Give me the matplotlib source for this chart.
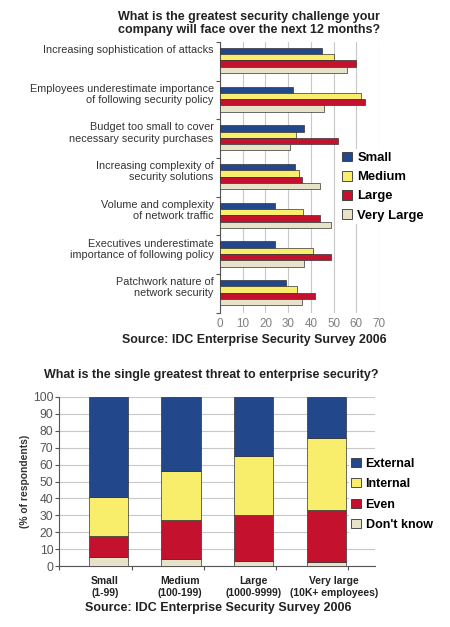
import matplotlib
matplotlib.use('Agg')
import numpy as np
import matplotlib.pyplot as plt
from matplotlib.patches import Patch

plt.rcParams['font.family'] = ['Liberation Sans', 'DejaVu Sans']

# top chart data
challenges = [
    'Increasing sophistication of attacks',
    'Employees underestimate importance\nof following security policy',
    'Budget too small to cover\nnecessary security purchases',
    'Increasing complexity of\nsecurity solutions',
    'Volume and complexity\nof network traffic',
    'Executives underestimate\nimportance of following policy',
    'Patchwork nature of\nnetwork security',
]
size_names = ['Small', 'Medium', 'Large', 'Very Large']
small = [45, 32, 37, 33, 24, 24, 29]
medium = [50, 62, 33.5, 35, 36.5, 41, 34]
large = [60, 64, 52, 36, 44, 49, 42]
very_large = [56, 46, 31, 44, 49, 37, 36]

# bottom chart data
company_sizes = ['Small\n(1-99)', 'Medium\n(100-199)', 'Large\n(1000-9999)',
                 'Very large\n(10K+ employees)']
threat_names = ['External', 'Internal', 'Even', "Don't know"]
dont_know = [5.5, 4.5, 3, 2.5]
even = [12.5, 23, 27, 30.5]
internal = [23, 28.5, 35, 42.5]
external = [59, 44, 35, 24.5]

BLUE = '#22478a'
YELLOW = '#f8ee6c'
RED = '#c3112e'
BEIGE = '#e7e3c9'
EDGE = '#333333'
GRID = '#c8c8c8'
TXT = '#333333'

fig = plt.figure(figsize=(4.5, 6.27), dpi=100)

# ---------------- top chart ----------------
ax1 = fig.add_axes([0.489, 0.501, 0.353, 0.432])
series = [small, medium, large, very_large]
colors = [BLUE, YELLOW, RED, BEIGE]
n = len(challenges)
h = 0.163
y0 = np.arange(n) + 0.15
for i, (vals, c) in enumerate(zip(series, colors)):
    ax1.barh(y0 + i * h, vals, height=h, align='edge', color=c,
             edgecolor=EDGE, linewidth=0.5, zorder=3)
ax1.set_ylim(n, 0)
ax1.set_xlim(0, 70)
ax1.set_xticks(range(0, 71, 10))
ax1.tick_params(axis='x', length=0, labelsize=8.4, labelcolor='#808080', pad=4)
ax1.set_yticks(np.arange(n + 1))
ax1.set_yticklabels([])
ax1.tick_params(axis='y', length=3, color='#555555')
ax1.grid(axis='x', color=GRID, linewidth=0.8, zorder=0)
for s in ['top', 'right', 'bottom']:
    ax1.spines[s].set_visible(False)
ax1.spines['left'].set_color('#555555')
for k, lab in enumerate(challenges):
    ax1.text(-2.8, k + 0.08, lab, ha='right', va='top', fontsize=7.8,
             color=TXT, linespacing=1.15)

fig.text(0.553, 0.982, 'What is the greatest security challenge your\n'
         'company will face over the next 12 months?',
         ha='center', va='top', fontsize=9.0, fontweight='bold',
         linespacing=1.1, color='#222222')
fig.text(0.565, 0.457, 'Source: IDC Enterprise Security Survey 2006',
         ha='center', va='center', fontsize=8.9, fontweight='bold',
         color='#222222')

h1 = [Patch(facecolor=c, edgecolor=EDGE, linewidth=0.6) for c in colors]
leg1 = fig.legend(h1, size_names, loc='upper left',
                  bbox_to_anchor=(0.755, 0.762), frameon=True,
                  prop={'size': 9.4, 'weight': 'bold'},
                  handlelength=0.75, handleheight=0.75, handletextpad=0.4,
                  labelspacing=0.52, borderpad=0.2, borderaxespad=0)
leg1.get_frame().set_facecolor('white')
leg1.get_frame().set_edgecolor('none')
leg1.get_frame().set_alpha(1)

# ---------------- bottom chart ----------------
ax2 = fig.add_axes([0.131, 0.097, 0.702, 0.270])
x = np.arange(len(company_sizes))
stack = [dont_know, even, internal, external]
stack_colors = [BEIGE, RED, YELLOW, BLUE]
bottom = np.zeros(len(x))
for vals, c in zip(stack, stack_colors):
    ax2.bar(x, vals, width=0.54, bottom=bottom, color=c, edgecolor=EDGE,
            linewidth=0.5, zorder=3)
    bottom += np.array(vals)
ax2.set_xlim(-0.683, 3.67)
ax2.set_ylim(0, 100)
ax2.set_yticks(range(0, 101, 10))
ax2.tick_params(axis='y', labelsize=8.8, labelcolor='#555555', length=3,
                color='#555555', pad=1)
ax2.set_xticks([-0.683, 0.32, 1.32, 2.31, 3.30])
ax2.set_xticklabels([])
ax2.tick_params(axis='x', length=3, color='#555555')
# category labels sit slightly off the bar centres, as in the original
label_shift = np.array([-0.05, -0.015, 0.0, 0.11])
ax2.set_xticks(x + label_shift, minor=True)
ax2.set_xticklabels(company_sizes, minor=True, fontsize=7.5,
                    fontweight='bold', color='#222222')
ax2.tick_params(axis='x', which='minor', length=0, pad=7)
ax2.grid(axis='y', color=GRID, linewidth=0.8, zorder=0)
for s in ['top', 'right']:
    ax2.spines[s].set_visible(False)
ax2.spines['left'].set_color('#555555')
ax2.spines['bottom'].set_color('#555555')
ax2.set_ylabel('(% of respondents)', fontsize=7.4, fontweight='bold',
               color='#333333', labelpad=2)

fig.text(0.47, 0.402, 'What is the single greatest threat to enterprise security?',
         ha='center', va='center', fontsize=9.0, fontweight='bold',
         color='#222222')
fig.text(0.485, 0.031, 'Source: IDC Enterprise Security Survey 2006',
         ha='center', va='center', fontsize=9.0, fontweight='bold',
         color='#222222')

h2 = [Patch(facecolor=c, edgecolor=EDGE, linewidth=0.6)
      for c in [BLUE, YELLOW, RED, BEIGE]]
leg2 = fig.legend(h2, threat_names, loc='upper left',
                  bbox_to_anchor=(0.775, 0.274), frameon=True,
                  prop={'size': 9.0, 'weight': 'bold'},
                  handlelength=0.75, handleheight=0.75, handletextpad=0.4,
                  labelspacing=0.68, borderpad=0.2, borderaxespad=0)
leg2.get_frame().set_facecolor('white')
leg2.get_frame().set_edgecolor('none')
leg2.get_frame().set_alpha(1)

fig.savefig('out.png', dpi=100, facecolor='white')
